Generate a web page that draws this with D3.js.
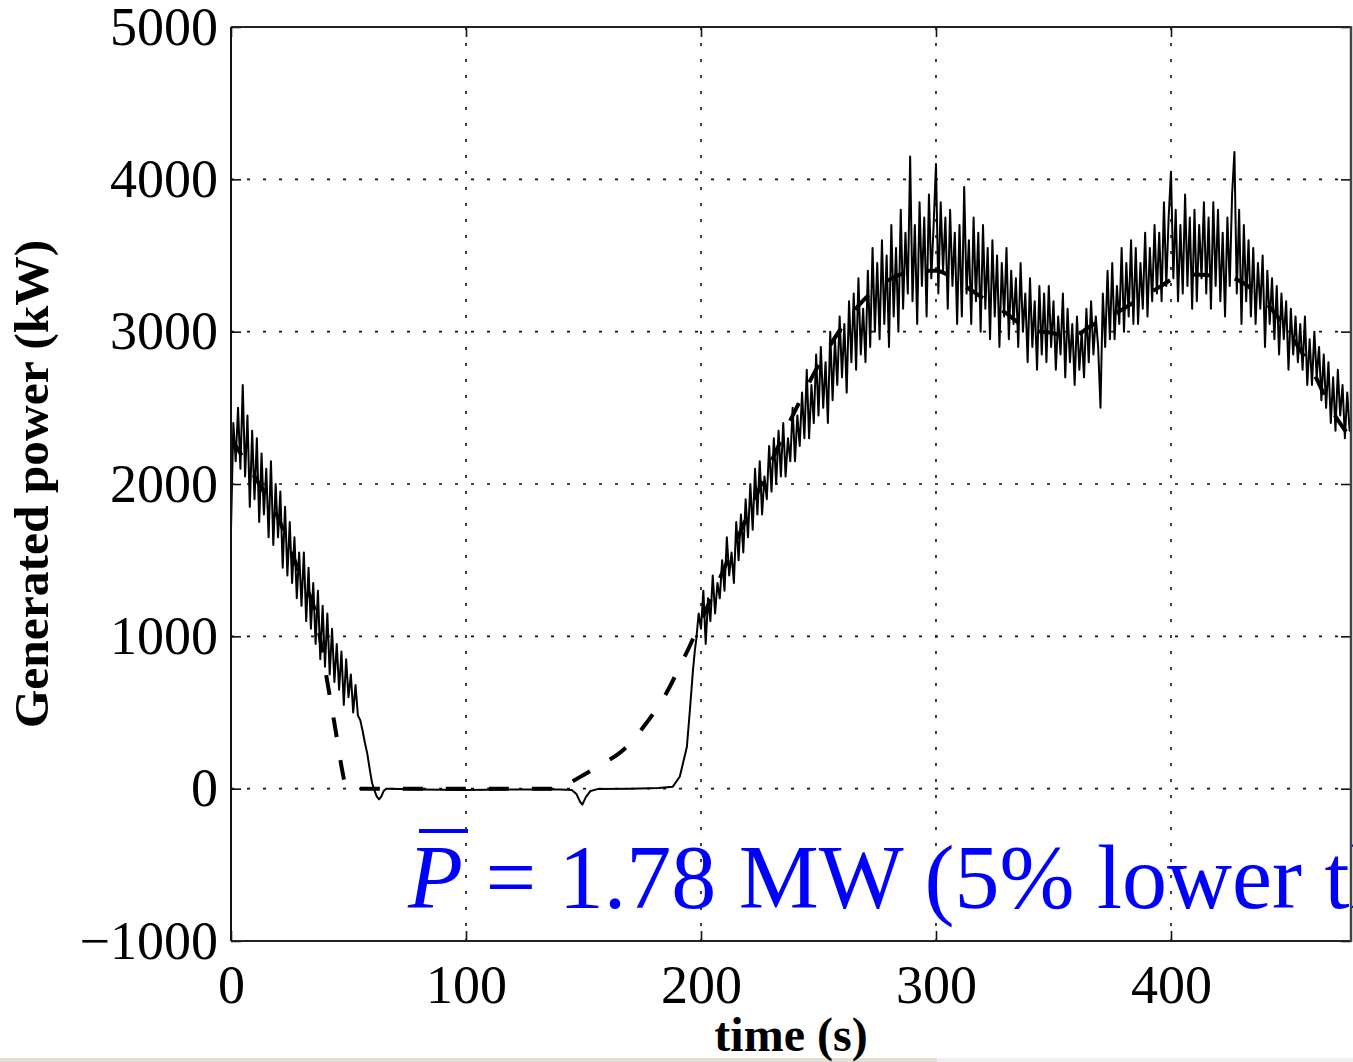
<!DOCTYPE html>
<html>
<head>
<meta charset="utf-8">
<script src="https://cdn.jsdelivr.net/npm/d3@7"></script>
<style>
body { margin: 0; background: #fff; }
svg { display: block; }
text { font-family: "Liberation Serif", "Times New Roman", serif; }
</style>
</head>
<body>
<div id="chart"></div>
<script>
// tick labels
var xTicks = [0, 100, 200, 300, 400];
var yTicks = [-1000, 0, 1000, 2000, 3000, 4000, 5000];

// measured power (kW), 1 s samples from t = 0
var timeStep = 1;
var headStart = 0;
var powerHead = [1700, 2400, 2150, 2500, 2100, 2650, 2050, 2450, 1850, 2350,
  1900, 2300, 1750, 2200, 1800, 2100, 1650, 2150, 1600, 2000,
  1650, 1950, 1450, 1850, 1400, 1750, 1350, 1650, 1250, 1550,
  1200, 1550, 1100, 1450, 1050, 1350, 950, 1300, 850, 1200,
  800, 1150, 750, 1050, 700, 950, 650, 900, 550, 850,
  600, 750, 500, 680, 480, 450, 380, 300, 230, 130,
  40, -10, -50, -70, -50, -15, 0];

// quiet stretch where the turbine is stopped
var flatTimes = [67, 80, 100, 120, 140, 145, 147, 148.5, 149.5, 151, 153, 156, 170, 182, 188, 191, 194, 195.3, 196.6, 197.4];
var flatPower = [0, -5, -8, -5, -5, -8, -35, -85, -105, -55, -15, -3, 0, 5, 13, 80, 275, 520, 780, 910];

// measured power (kW), 1 s samples from t = 198
var tailStart = 198;
var powerTail = [980, 1150,
  1050, 1300, 950, 1250, 1100,   1400, 1150, 1350, 1250, 1500,
  1300, 1650, 1400, 1550, 1350,  1750, 1500, 1800, 1550, 1900,
  1650, 2000, 1700, 2100, 1800,  2150, 1800, 2050, 1900, 2250,
  1950, 2300, 2000, 2350, 2050,  2400, 2050, 2300, 2150, 2500,
  2150, 2450, 2250, 2600, 2300,  2750, 2300, 2650, 2400, 2850,
  2450, 2900, 2500, 2800, 2400,  3000, 2550, 2950, 2650, 3100,
  2700, 3050, 2600, 3200, 2800,  3250, 2750, 3350, 2850, 3150,
  2800, 3400, 2900, 3550, 3000,  3450, 2950, 3600, 3050, 3500,
  2900, 3700, 3100, 3550, 3000,  3800, 3150, 3650, 3250, 4150,
  3200, 3700, 3050, 3850, 3300,  3750, 3100, 3900, 3350, 3700,
  4100, 3250, 3850, 3400, 3750,  3150, 3800, 3300, 3650, 3050,
  3700, 3100, 3950, 3250, 3600,  3050, 3750, 3200, 3650, 3000,
  3700, 3150, 3550, 2950, 3600,  3100, 3500, 2900, 3450, 3100,
  3550, 2950, 3400, 3050, 3350,  2900, 3450, 3000, 3250, 2800,
  3350, 2900, 3200, 2750, 3300,  2850, 3250, 2800, 3300, 2900,
  3200, 2750, 3100, 2850, 3250,  2700, 3150, 2800, 3050, 2650,
  3100, 2750, 3000, 2700, 3150,  2800, 3200, 2850, 3100, 2900,
  2500, 3250, 2900, 3400, 2950,  3450, 2950, 3300, 3050, 3550,
  3000, 3450, 3100, 3600, 3050,  3550, 3050, 3450, 3150, 3650,
  3100, 3550, 3200, 3700, 3250,  3650, 3200, 3850, 3300, 3750,
  4050, 3350, 3800, 3200, 3700,  3250, 3900, 3300, 3750, 3150,
  3800, 3200, 3700, 3350, 3850,  3250, 3750, 3150, 3850, 3300,
  3800, 3200, 3650, 3100, 3750,  3300, 3900, 4180, 3250, 3800,
  3050, 3700, 3200, 3600, 3100,  3550, 3050, 3450, 3150, 3500,
  2900, 3400, 3050, 3350, 2950,  3300, 2850, 3250, 2950, 3200,
  2750, 3150, 2850, 3100, 2800,  3050, 2750, 3100, 2650, 2950,
  2650, 3000, 2700, 2900, 2550,  2850, 2500, 2800, 2400, 2700,
  2350, 2750, 2450, 2650, 2300,  2600, 2350, 2500];

// dashed reference curve
var refTimes = [0, 10, 20, 30, 36, 40, 44, 47.7, 49, 140, 145, 150, 155, 160, 165, 170, 175, 180, 185, 190,
  195, 200, 210, 220, 230, 240, 250, 260, 270, 280, 290, 300, 310, 320, 330, 340, 350, 357,
  365, 377, 392, 407, 424, 441, 452, 460, 469, 476.6];
var refPower = [2300, 2050, 1780, 1380, 1150, 790, 430, 90, 0, 0, 45, 90, 135, 180, 230, 300, 395, 500, 620, 770,
  930, 1100, 1450, 1800, 2150, 2480, 2780, 3030, 3220, 3340, 3395, 3400, 3320, 3220, 3120, 3010, 2990, 2950,
  3030, 3125, 3265, 3375, 3360, 3180, 2950, 2750, 2470, 2300];

var margin = {top: 27, right: 2, bottom: 121, left: 231},
    width = 1353 - margin.left - margin.right,
    height = 1062 - margin.top - margin.bottom;

var x = d3.scaleLinear().domain([0, 476.6]).range([0, width]);
var y = d3.scaleLinear().domain([-1000, 5000]).range([height, 0]);

var root = d3.select("#chart").append("svg")
    .attr("width", 1353)
    .attr("height", 1062);

// page edge strip at the bottom of the screenshot
root.append("rect").attr("x", 0).attr("y", 1058).attr("width", 937).attr("height", 4).style("fill", "#e2dfd9");
root.append("rect").attr("x", 937).attr("y", 1058).attr("width", 416).attr("height", 4).style("fill", "#efefef");

var svg = root.append("g")
    .attr("transform", "translate(" + margin.left + "," + margin.top + ")");

svg.append("clipPath").attr("id", "plotClip")
  .append("rect").attr("width", width).attr("height", height);

// dotted grid
svg.selectAll(".vgrid")
    .data(xTicks.filter(function(d) { return d > 0; }))
  .enter().append("line")
    .attr("x1", function(d) { return x(d); })
    .attr("x2", function(d) { return x(d); })
    .attr("y1", 0).attr("y2", height)
    .style("stroke", "#111").style("stroke-width", 1.6)
    .style("stroke-dasharray", "3,13");

svg.selectAll(".hgrid")
    .data(yTicks.filter(function(d) { return d > -1000 && d < 5000; }))
  .enter().append("line")
    .attr("y1", function(d) { return y(d); })
    .attr("y2", function(d) { return y(d); })
    .attr("x1", 0).attr("x2", width)
    .style("stroke", "#111").style("stroke-width", 1.6)
    .style("stroke-dasharray", "3,13");

var measured = powerHead.map(function(v, i) { return [headStart + i * timeStep, v]; })
  .concat(flatTimes.map(function(t, i) { return [t, flatPower[i]]; }))
  .concat(powerTail.map(function(v, i) { return [tailStart + i * timeStep, v]; }));

var reference = refTimes.map(function(t, i) { return [t, refPower[i]]; });

var line = d3.line()
    .x(function(d) { return x(d[0]); })
    .y(function(d) { return y(d[1]); });

var plot = svg.append("g").attr("clip-path", "url(#plotClip)");

plot.append("path")
    .datum(measured)
    .attr("d", line)
    .style("fill", "none")
    .style("stroke", "#000")
    .style("stroke-width", 2)
    .style("stroke-linejoin", "round");

plot.append("path")
    .datum(reference)
    .attr("d", line.curve(d3.curveMonotoneX))
    .style("fill", "none")
    .style("stroke", "#000")
    .style("stroke-width", 4)
    .style("stroke-dasharray", "20,23");

// axes with inward ticks on all four sides
function styleAxis(g) {
  g.select(".domain").remove();
  g.selectAll(".tick line").style("stroke", "#111").style("stroke-width", 1.6);
  g.selectAll(".tick text")
    .style("font-family", "'Liberation Serif', 'Times New Roman', serif")
    .style("font-size", "54px")
    .style("fill", "#000");
}

svg.append("g")
    .attr("transform", "translate(0," + height + ")")
    .call(d3.axisBottom(x).tickValues(xTicks).tickFormat(d3.format("d")).tickSizeInner(-10).tickSizeOuter(0).tickPadding(24))
    .call(styleAxis);

svg.append("g")
    .call(d3.axisTop(x).tickValues(xTicks).tickFormat("").tickSizeInner(-10).tickSizeOuter(0))
    .call(styleAxis);

svg.append("g")
    .call(d3.axisLeft(y).tickValues(yTicks).tickFormat(function(d) { return d < 0 ? "\u2212" + Math.abs(d) : d; })
      .tickSizeInner(-10).tickSizeOuter(0).tickPadding(13))
    .call(styleAxis);

svg.append("g")
    .attr("transform", "translate(" + width + ",0)")
    .call(d3.axisRight(y).tickValues(yTicks).tickFormat("").tickSizeInner(-10).tickSizeOuter(0))
    .call(styleAxis);

// plot box
svg.append("line").attr("x1", 0).attr("x2", width).attr("y1", 0).attr("y2", 0)
    .style("stroke", "#222").style("stroke-width", 2);
svg.append("line").attr("x1", 0).attr("x2", width).attr("y1", height).attr("y2", height)
    .style("stroke", "#222").style("stroke-width", 2);
svg.append("line").attr("x1", 0).attr("x2", 0).attr("y1", 0).attr("y2", height)
    .style("stroke", "#111").style("stroke-width", 2);

// axis titles
svg.append("text")
    .attr("x", x(238.3))
    .attr("y", height + 110)
    .attr("text-anchor", "middle")
    .style("font-size", "48px")
    .style("font-weight", "bold")
    .text("time (s)");

svg.append("text")
    .attr("transform", "translate(" + (48 - margin.left) + "," + (height / 2) + ") rotate(-90)")
    .attr("text-anchor", "middle")
    .style("font-size", "49.5px")
    .style("font-weight", "bold")
    .text("Generated power (kW)");

// annotation
var ann = svg.append("text")
    .attr("x", 408 - margin.left)
    .attr("y", 908 - margin.top)
    .style("font-size", "90px")
    .style("fill", "#0000ff");
ann.append("tspan").style("font-style", "italic").text("P");
ann.append("tspan").text(" = 1.78 MW (5% lower than");

svg.append("line")
    .attr("x1", 419 - margin.left).attr("x2", 468 - margin.left)
    .attr("y1", 831 - margin.top).attr("y2", 831 - margin.top)
    .style("stroke", "#0000ff").style("stroke-width", 4);

// right edge of the cropped frame
root.append("line").attr("x1", 1351).attr("x2", 1351).attr("y1", margin.top - 1).attr("y2", margin.top + height + 1)
    .style("stroke", "#444").style("stroke-width", 2.5);
</script>
</body>
</html>
